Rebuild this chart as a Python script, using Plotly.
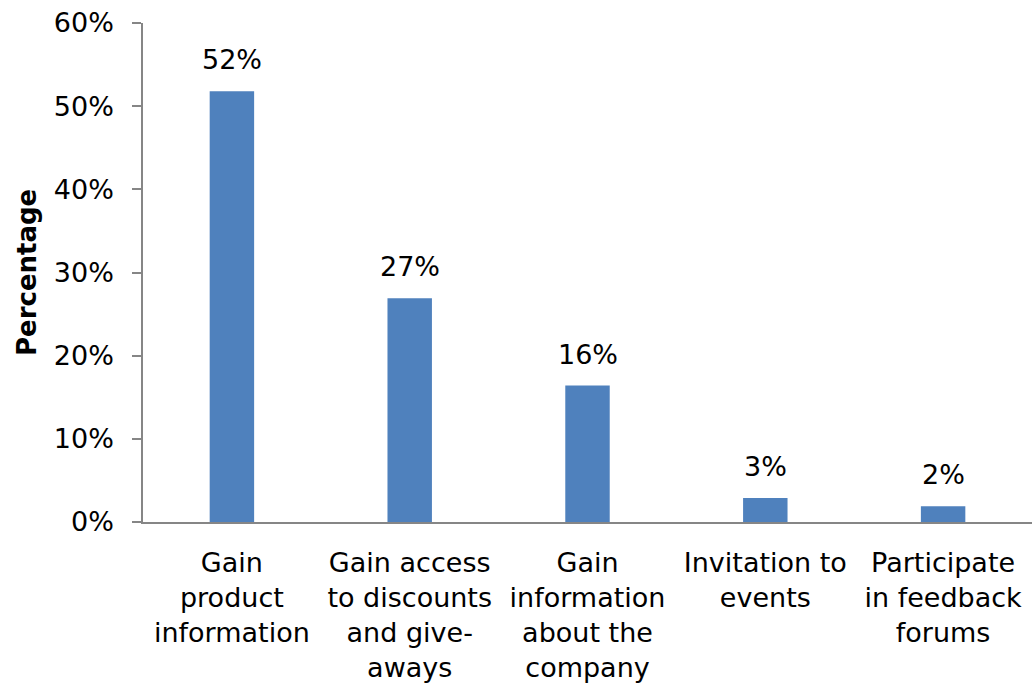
import plotly.graph_objects as go

categories = [
    "Gain<br>product<br>information",
    "Gain access<br>to discounts<br>and give-<br>aways",
    "Gain<br>information<br>about the<br>company",
    "Invitation to<br>events",
    "Participate<br>in feedback<br>forums",
]
shares = [0.518, 0.269, 0.164, 0.029, 0.019]
y_ticks = [0, 0.1, 0.2, 0.3, 0.4, 0.5, 0.6]
y_tick_labels = ["0%", "10%", "20%", "30%", "40%", "50%", "60%"]

FONT = "DejaVu Sans, Liberation Sans, Arial, sans-serif"
AXIS_GRAY = "#868686"

fig = go.Figure(
    go.Bar(
        x=categories,
        y=shares,
        marker=dict(color="#4F81BD", line=dict(width=0)),
        width=0.25,
    )
)

# value labels above each bar
for c, v in zip(categories, shares):
    fig.add_annotation(
        x=c, y=v, xref="x", yref="y",
        text=f"{round(v * 100):d}%",
        showarrow=False, yanchor="bottom", yshift=14,
        font=dict(family=FONT, size=27, color="#000000"),
    )

# rotated axis title
fig.add_annotation(
    x=-0.131, y=0.5, xref="paper", yref="paper",
    text="<b>Percentage</b>", textangle=-90, showarrow=False,
    xanchor="center", yanchor="middle",
    font=dict(family=FONT, size=26, color="#000000"),
)

fig.update_layout(
    width=1032, height=690,
    margin=dict(l=143, r=0, t=23, b=168),
    paper_bgcolor="white", plot_bgcolor="white",
    showlegend=False,
    font=dict(family=FONT, size=27, color="#000000"),
    xaxis=dict(
        showline=True, linecolor=AXIS_GRAY, linewidth=1.5,
        ticks="", showgrid=False, zeroline=False,
        tickfont=dict(family=FONT, size=27, color="#000000"),
        ticklabelstandoff=16,
    ),
    yaxis=dict(
        range=[0, 0.6], tickvals=y_ticks, ticktext=y_tick_labels,
        showline=True, linecolor=AXIS_GRAY, linewidth=1.5,
        ticks="outside", ticklen=9, tickcolor=AXIS_GRAY, tickwidth=1.5,
        showgrid=False, zeroline=False,
        tickfont=dict(family=FONT, size=27, color="#000000"),
        ticklabelstandoff=13,
    ),
)

fig.write_html("out.html")
